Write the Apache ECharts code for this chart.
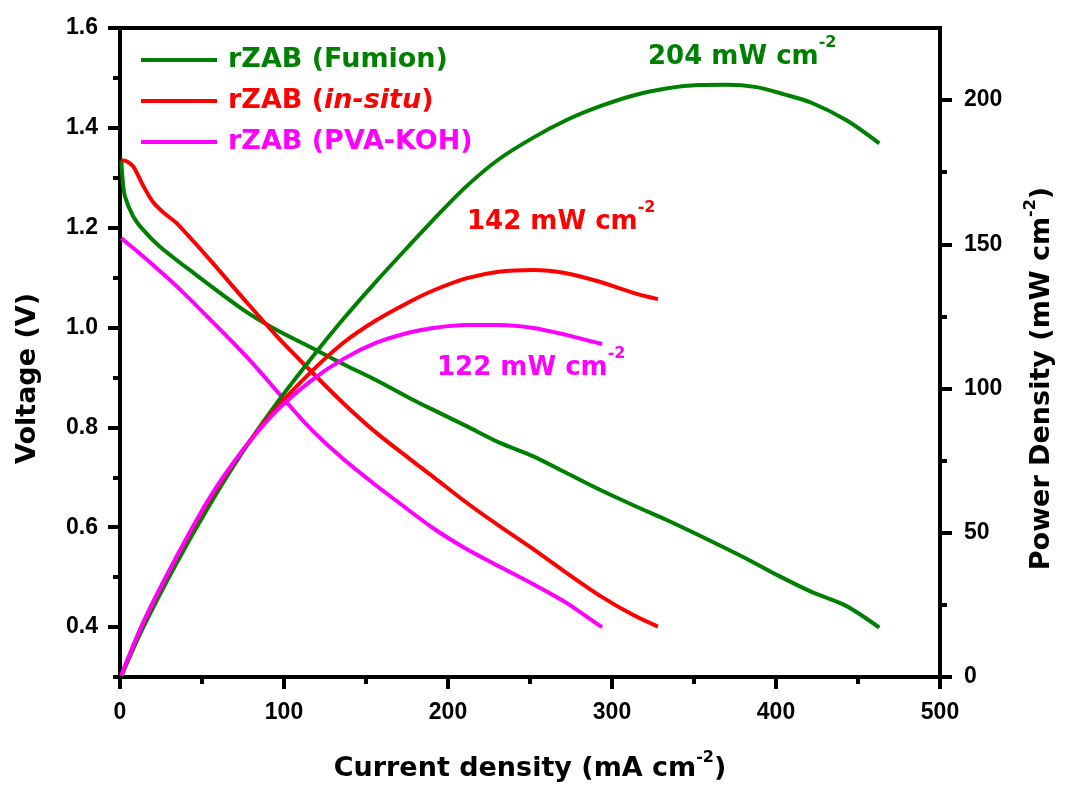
<!DOCTYPE html>
<html>
<head>
<meta charset="utf-8">
<script src="https://cdn.jsdelivr.net/npm/echarts@6/dist/echarts.min.js"></script>
<style>
  html, body { margin: 0; padding: 0; background: #fff; }
  #chart { width: 1067px; height: 794px; }
</style>
</head>
<body>
<div id="chart"></div>
<script>
// current density (mA cm-2), voltage (V) pairs
const fumionV = [[0.8,1.335],[1.5,1.30],[3,1.263],[8,1.223],[14,1.196],[24,1.163],[45,1.109],[75,1.036],[95,0.996],[116,0.961],[136,0.927],[156,0.895],[177,0.858],[191,0.835],[211,0.803],[231,0.770],[252,0.742],[272,0.709],[292,0.676],[313,0.644],[333,0.615],[353,0.584],[382,0.537],[402,0.502],[422,0.470],[443,0.442],[463,0.399]];
const insituV = [[0.8,1.335],[4,1.333],[8,1.323],[11,1.305],[14,1.285],[20,1.252],[27,1.229],[34.5,1.209],[55,1.135],[75,1.059],[95,0.985],[116,0.914],[136,0.849],[156,0.790],[177,0.736],[191,0.701],[211,0.650],[231,0.603],[252,0.556],[272,0.509],[292,0.464],[313,0.424],[328,0.401]];
const pvaV = [[0.8,1.179],[14,1.143],[34.5,1.083],[55,1.016],[75,0.949],[89,0.898],[99.5,0.858],[116,0.798],[136,0.737],[156,0.684],[170.5,0.648],[191,0.598],[211,0.557],[231,0.522],[252,0.486],[272,0.449],[292,0.404],[294,0.40]];

// current density (mA cm-2), power density (mW cm-2) pairs
const fumionP = [[0.8,0.3],[14,17],[34.5,39.5],[55,60],[75,78.2],[95,94.5],[116,110],[136,124],[156,137],[177,150],[191,158.5],[211,170],[231,179.5],[252,187],[272,193],[292,197.7],[313,201.6],[333,204],[353,205.2],[370,205.3],[388,204.5],[405,202],[422,199],[443,193],[463,185]];
const insituP = [[0.8,0.5],[14,18.6],[34.5,41.5],[55,62],[75,78.7],[95,93],[116,105.5],[136,115.8],[156,123.6],[177,130.2],[191,134],[211,138.2],[231,140.5],[252,141.1],[272,140],[292,137.1],[313,133.2],[328,131]];
const pvaP = [[0.8,0.5],[14,18.6],[34.5,41.7],[55,62.5],[75,78.7],[95,92],[116,102.5],[136,110.2],[156,115.8],[177,119.5],[191,121],[211,122],[231,122],[252,121],[272,118.6],[292,115.7],[294,115.5]];

const xMajor = [0, 100, 200, 300, 400, 500];
const xMinor = [50, 150, 250, 350, 450];
const vMajor = [0.4, 0.6, 0.8, 1.0, 1.2, 1.4, 1.6];
const vMinor = [0.3, 0.5, 0.7, 0.9, 1.1, 1.3, 1.5];
const pMajor = [0, 50, 100, 150, 200];
const pMinor = [25, 75, 125, 175];

const names = ['rZAB (Fumion)', 'rZAB (in-situ)', 'rZAB (PVA-KOH)'];
const colors = ['#008000', '#ff0000', '#ff00ff'];
const peaks = ['204 mW cm', '142 mW cm', '122 mW cm'];

const bigFont = 'DejaVu Sans';
const tickFont = 'Liberation Sans';

const chart = echarts.init(document.getElementById('chart'));

const tickLabel = { fontFamily: tickFont, fontWeight: 'bold', fontSize: 23, color: '#000' };
// superscript is lifted with bottom padding
const nameRich = {
  a: { fontFamily: bigFont, fontWeight: 'bold', fontSize: 27, color: '#000', lineHeight: 40 },
  s: { fontFamily: bigFont, fontWeight: 'bold', fontSize: 16, color: '#000', lineHeight: 16, padding: [0, 0, 23, 0] }
};

function mainAxis(extra) {
  return Object.assign({
    type: 'value',
    splitLine: { show: false },
    axisLine: { show: true, onZero: false, lineStyle: { color: '#000', width: 4 } },
    axisTick: { show: true, length: 12, lineStyle: { color: '#000', width: 4 } },
    axisLabel: Object.assign({}, tickLabel),
    nameTextStyle: { rich: nameRich }
  }, extra);
}
function minorAxis(extra, values) {
  return Object.assign({
    type: 'value',
    splitLine: { show: false },
    axisLine: { show: false, onZero: false },
    axisTick: { show: true, length: 7, customValues: values, lineStyle: { color: '#000', width: 4 } },
    axisLabel: { show: false }
  }, extra);
}

function legendItem(i) {
  return {
    name: names[i],
    textStyle: {
      color: colors[i],
      rich: {
        n: { color: colors[i], fontFamily: bigFont, fontWeight: 'bold', fontSize: 27, lineHeight: 30 },
        i: { color: colors[i], fontFamily: bigFont, fontWeight: 'bold', fontStyle: 'italic', fontSize: 27, lineHeight: 30 }
      }
    }
  };
}

function peakLabel(i, x, y) {
  return {
    type: 'text',
    x: x,
    y: y,
    style: {
      text: '{t|' + peaks[i] + '}{s|-2}',
      verticalAlign: 'middle',
      rich: {
        t: { fontFamily: bigFont, fontWeight: 'bold', fontSize: 26, fill: colors[i], lineHeight: 34 },
        s: { fontFamily: bigFont, fontWeight: 'bold', fontSize: 16, fill: colors[i], lineHeight: 16, padding: [0, 0, 28, 0] }
      }
    }
  };
}

const lineSeries = (i, data, yIdx) => ({
  name: names[i],
  type: 'line',
  data: data,
  yAxisIndex: yIdx,
  smooth: 0.3,
  showSymbol: false,
  color: colors[i],
  lineStyle: { color: colors[i], width: 4 }
});

chart.setOption({
  animation: false,
  backgroundColor: '#fff',
  grid: { left: 120, right: 127, top: 28, bottom: 117, show: true, borderColor: '#000', borderWidth: 4, outerBoundsMode: 'none' },
  legend: {
    orient: 'vertical',
    left: 141,
    top: 45,
    padding: 0,
    itemGap: 11,
    itemWidth: 76,
    itemHeight: 4,
    icon: 'rect',
    textStyle: { padding: [0, 0, 0, 6], fontFamily: bigFont, fontWeight: 'bold', fontSize: 27, lineHeight: 30 },
    formatter: function (name) {
      if (name === names[1]) return '{n|rZAB (}{i|in-situ}{n|)}';
      return '{n|' + name + '}';
    },
    data: [legendItem(0), legendItem(1), legendItem(2)]
  },
  xAxis: [
    mainAxis({
      min: 0, max: 500, position: 'bottom',
      axisTick: { show: true, length: 12, customValues: xMajor, lineStyle: { color: '#000', width: 4 } },
      axisLabel: Object.assign({ customValues: xMajor, margin: 24 }, tickLabel),
      name: '{a|Current density (mA cm}{s|-2}{a|)}',
      nameLocation: 'middle',
      nameGap: 72
    }),
    minorAxis({ min: 0, max: 500, position: 'bottom' }, xMinor)
  ],
  yAxis: [
    mainAxis({
      min: 0.3, max: 1.6, position: 'left',
      axisTick: { show: true, length: 12, customValues: vMajor, lineStyle: { color: '#000', width: 4 } },
      axisLabel: Object.assign({ customValues: vMajor, margin: 22, formatter: v => v.toFixed(1) }, tickLabel),
      name: '{a|Voltage (V)}',
      nameLocation: 'middle',
      nameRotate: 90,
      nameGap: 72,
      nameTextStyle: { rich: { a: nameRich.a }, padding: [0, 52, 0, 0] }
    }),
    minorAxis({ min: 0.3, max: 1.6, position: 'left' }, vMinor),
    mainAxis({
      min: 0, max: 225, position: 'right',
      axisTick: { show: true, length: 12, customValues: pMajor, lineStyle: { color: '#000', width: 4 } },
      axisLabel: Object.assign({ customValues: pMajor, margin: 24 }, tickLabel),
      name: '{a|Power Density (mW cm}{s|-2}{a|)}',
      nameLocation: 'middle',
      nameRotate: 90,
      nameGap: 82,
      nameTextStyle: { rich: nameRich, padding: [0, 52, 0, 0] }
    }),
    minorAxis({ min: 0, max: 225, position: 'right' }, pMinor)
  ],
  graphic: [
    peakLabel(0, 648, 57),
    peakLabel(1, 467, 222),
    peakLabel(2, 437, 368)
  ],
  series: [
    lineSeries(0, fumionV, 0),
    lineSeries(1, insituV, 0),
    lineSeries(2, pvaV, 0),
    lineSeries(0, fumionP, 2),
    lineSeries(1, insituP, 2),
    lineSeries(2, pvaP, 2)
  ]
});
</script>
</body>
</html>
